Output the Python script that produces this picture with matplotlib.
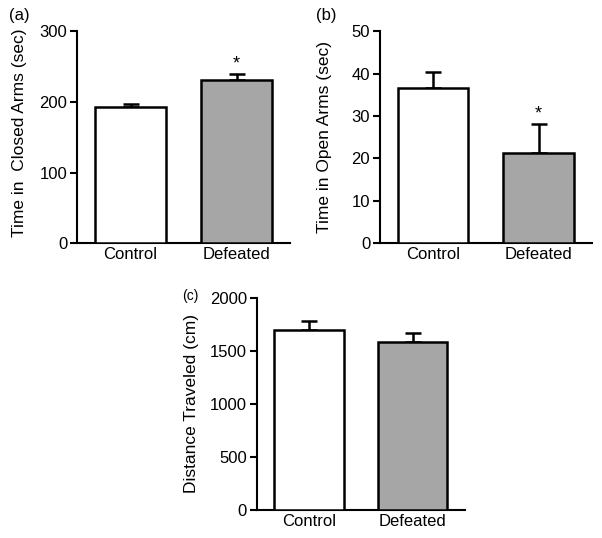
import matplotlib
matplotlib.use("Agg")
import matplotlib.pyplot as plt

plt.rcParams['font.family'] = ['Liberation Sans', 'DejaVu Sans']

categories = ["Control", "Defeated"]
closed_means = [193, 231]
closed_sem = [4, 8]
open_means = [36.6, 21.3]
open_sem = [3.8, 6.9]
dist_means = [1698, 1586]
dist_sem = [82, 78]

colors = ["white", "#a6a6a6"]

fig = plt.figure(figsize=(6.02, 5.38), dpi=100)

def panel(rect, means, sems, ylim, yticks, ylabel, label_xy, letter, letter_pos, star=None, letter_size=12):
    ax = fig.add_axes(rect)
    x = list(range(len(categories)))
    ax.bar(x, means, width=0.667, color=colors, edgecolor="black", linewidth=1.8, zorder=3)
    ax.errorbar(x, means, yerr=[[0]*len(sems), sems], fmt="none", ecolor="black",
                elinewidth=1.8, capsize=6, capthick=1.8, zorder=2)
    ax.set_xlim(-0.505, 1.505)
    ax.set_ylim(*ylim)
    ax.set_yticks(yticks)
    ax.set_xticks(x)
    ax.set_xticklabels(categories, fontsize=12)
    ax.tick_params(axis="x", length=0, pad=3)
    ax.tick_params(axis="y", length=5, width=1.5, labelsize=12, pad=2)
    for s in ["top", "right"]:
        ax.spines[s].set_visible(False)
    for s in ["left", "bottom"]:
        ax.spines[s].set_linewidth(1.5)
    ax.set_ylabel(ylabel, fontsize=12.5)
    ax.yaxis.set_label_coords(*label_xy)
    if star is not None:
        i, y = star
        ax.text(i, y, "*", ha="center", va="center", fontsize=13)
    fig.text(letter_pos[0], letter_pos[1], letter, fontsize=letter_size, ha="left", va="center")
    return ax

panel([0.128, 0.548, 0.3538, 0.394], closed_means, closed_sem, (0, 300), [0, 100, 200, 300],
      "Time in  Closed Arms (sec)", (-0.236, 0.52), "(a)", (0.015, 0.972), star=(1, 253))
panel([0.631, 0.548, 0.352, 0.394], open_means, open_sem, (0, 50), [0, 10, 20, 30, 40, 50],
      "Time in Open Arms (sec)", (-0.224, 0.5), "(b)", (0.525, 0.972), star=(1, 30.5))
panel([0.4264, 0.052, 0.346, 0.3947], dist_means, dist_sem, (0, 2000), [0, 500, 1000, 1500, 2000],
      "Distance Traveled (cm)", (-0.278, 0.5), "(c)", (0.302, 0.449), letter_size=10)

fig.savefig("out.png", dpi=100)
